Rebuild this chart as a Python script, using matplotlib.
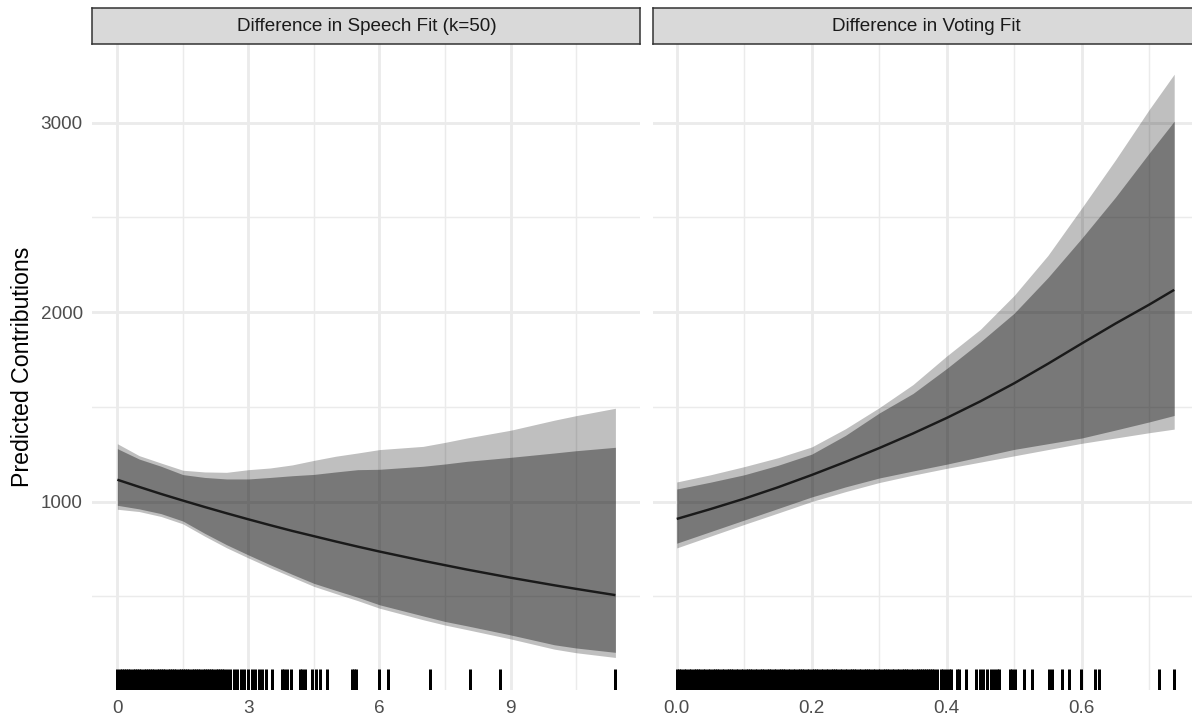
import matplotlib
matplotlib.use("Agg")
import matplotlib.pyplot as plt
from matplotlib.ticker import FixedLocator

plt.rcParams['font.family'] = ['Liberation Sans', 'DejaVu Sans']

# ---------------- data ----------------
panel_titles = ["Difference in Speech Fit (k=50)", "Difference in Voting Fit"]
y_label = "Predicted Contributions"

speech_x = [0, 0.5, 1, 1.5, 2, 2.5, 3, 3.5, 4, 4.5, 5, 5.5, 6, 7, 7.5, 8, 9, 10, 10.5, 11.4]
speech_fit = [1116, 1078, 1041, 1006, 972, 939, 907, 876, 846, 818, 790, 763, 737, 688, 665, 642, 599, 559, 540, 507]
speech_hi95 = [1306, 1243, 1204, 1166, 1157, 1155, 1169, 1178, 1194, 1218, 1240, 1257, 1275, 1292, 1313, 1336, 1377, 1430, 1454, 1493]
speech_hi90 = [1280, 1225, 1187, 1143, 1128, 1120, 1120, 1128, 1137, 1144, 1157, 1169, 1171, 1187, 1199, 1213, 1234, 1257, 1269, 1287]
speech_lo90 = [981, 962, 937, 898, 833, 773, 719, 667, 617, 569, 532, 496, 456, 397, 368, 345, 297, 245, 228, 205]
speech_lo95 = [960, 948, 922, 883, 818, 757, 703, 651, 602, 553, 515, 478, 438, 377, 349, 325, 276, 222, 203, 178]

vote_x = [0, 0.05, 0.1, 0.15, 0.2, 0.25, 0.3, 0.35, 0.4, 0.45, 0.5, 0.55, 0.6, 0.65, 0.7, 0.737]
vote_fit = [909, 961, 1016, 1076, 1141, 1210, 1283, 1360, 1442, 1530, 1625, 1728, 1835, 1940, 2040, 2118]
vote_hi95 = [1104, 1142, 1185, 1232, 1289, 1385, 1496, 1618, 1769, 1910, 2089, 2300, 2550, 2804, 3070, 3256]
vote_hi90 = [1067, 1103, 1142, 1192, 1251, 1350, 1468, 1571, 1703, 1844, 1995, 2183, 2390, 2607, 2840, 3008]
vote_lo90 = [781, 842, 903, 964, 1025, 1078, 1125, 1162, 1198, 1237, 1276, 1306, 1336, 1378, 1421, 1455]
vote_lo95 = [756, 818, 880, 940, 1001, 1053, 1101, 1140, 1176, 1209, 1242, 1275, 1308, 1336, 1364, 1383]

speech_rug = [0.00, 0.05, 0.10, 0.15, 0.20, 0.25, 0.30, 0.35, 0.40, 0.45, 0.50, 0.55, 0.60,
              0.65, 0.70, 0.75, 0.80, 0.85, 0.90, 0.95, 1.00, 1.05, 1.10, 1.15, 1.20, 1.25,
              1.30, 1.35, 1.40, 1.45, 1.50, 1.55, 1.60, 1.65, 1.70, 1.75, 1.80, 1.85, 1.90,
              1.95, 2.00, 2.05, 2.10, 2.15, 2.20, 2.25, 2.30, 2.35, 2.40,
              2.45, 2.50, 2.58, 2.66, 2.75, 2.83, 2.91, 3.00, 3.08, 3.16, 3.24, 3.32, 3.40,
              3.53, 3.77, 3.82, 3.88, 3.98, 4.18, 4.22, 4.29, 4.45, 4.55, 4.65, 4.80,
              5.37, 5.42, 5.47, 5.98, 6.19, 7.16, 8.07, 8.77, 11.40]
vote_rug = [0.000, 0.004, 0.007, 0.011, 0.014, 0.018, 0.021, 0.025, 0.028, 0.032, 0.035,
            0.039, 0.042, 0.046, 0.049, 0.053, 0.056, 0.060, 0.063, 0.067, 0.070, 0.074,
            0.077, 0.081, 0.084, 0.088, 0.091, 0.095, 0.098, 0.102, 0.105, 0.109, 0.112,
            0.116, 0.119, 0.123, 0.126, 0.130, 0.133, 0.137, 0.140, 0.144, 0.147, 0.151,
            0.154, 0.158, 0.161, 0.165, 0.168, 0.172, 0.175, 0.179, 0.182, 0.186, 0.189,
            0.193, 0.196, 0.200, 0.203, 0.207, 0.210, 0.214, 0.217, 0.221, 0.224, 0.228,
            0.231, 0.235, 0.238, 0.242, 0.245, 0.249, 0.252, 0.256, 0.259, 0.263, 0.266,
            0.270, 0.273, 0.277, 0.280, 0.284, 0.287, 0.291, 0.294, 0.298, 0.301, 0.305,
            0.308, 0.312, 0.315, 0.319, 0.322, 0.326, 0.329, 0.333, 0.336, 0.340, 0.343,
            0.347, 0.350, 0.354, 0.357, 0.360, 0.363, 0.366, 0.369, 0.372, 0.375, 0.378,
            0.381, 0.386, 0.391, 0.395, 0.399, 0.404, 0.407, 0.415, 0.418, 0.428, 0.444,
            0.449, 0.454, 0.459, 0.465, 0.470, 0.475, 0.477, 0.494, 0.497, 0.501, 0.514,
            0.526, 0.551, 0.556, 0.571, 0.581, 0.599, 0.620, 0.625, 0.714, 0.737]

speech_xticks = [0, 3, 6, 9]
speech_xminor = [1.5, 4.5, 7.5, 10.5]
vote_xticks = [0.0, 0.2, 0.4, 0.6]
vote_xminor = [0.1, 0.3, 0.5, 0.7]
yticks = [1000, 2000, 3000]
yminor = [500, 1500, 2500]

# ---------------- layout ----------------
W, H = 1192, 717
fig = plt.figure(figsize=(W / 100, H / 100), dpi=100)
fig.patch.set_facecolor("white")

panel_top, panel_bot = 44.0, 690.0
panel_w = 547.9
lefts = [92.4, 652.7]
xlims = [(-0.571, 11.97), (-0.0356, 0.7761)]
ylim = (6.3, 3415.3)

GRID = "#EBEBEB"
TICKC = "#4D4D4D"

panels = [
    (speech_x, speech_fit, speech_hi95, speech_hi90, speech_lo90, speech_lo95, speech_rug,
     speech_xticks, speech_xminor, ["0", "3", "6", "9"]),
    (vote_x, vote_fit, vote_hi95, vote_hi90, vote_lo90, vote_lo95, vote_rug,
     vote_xticks, vote_xminor, ["0.0", "0.2", "0.4", "0.6"]),
]

for i, (xs, fit, hi95, hi90, lo90, lo95, rug, xt, xm, xtl) in enumerate(panels):
    L = lefts[i]
    ax = fig.add_axes([L / W, (H - panel_bot) / H, panel_w / W, (panel_bot - panel_top) / H])
    ax.set_xlim(*xlims[i])
    ax.set_ylim(*ylim)
    ax.set_facecolor("white")
    for s in ax.spines.values():
        s.set_visible(False)
    # grid
    for v in xm:
        ax.axvline(v, color=GRID, lw=1.05, zorder=0)
    for v in yminor:
        ax.axhline(v, color=GRID, lw=1.05, zorder=0)
    for v in xt:
        ax.axvline(v, color=GRID, lw=2.05, zorder=0)
    for v in yticks:
        ax.axhline(v, color=GRID, lw=2.05, zorder=0)
    # ribbons
    ax.fill_between(xs, lo95, hi95, color="black", alpha=0.25, lw=0, zorder=2)
    ax.fill_between(xs, lo90, hi90, color="black", alpha=0.37, lw=0, zorder=3)
    ax.plot(xs, fit, color="#1A1A1A", lw=1.75, zorder=4, solid_capstyle="butt",
            solid_joinstyle="round")
    # rug
    ax.vlines(rug, 0, 0.033, transform=ax.get_xaxis_transform(), color="black",
              lw=2.16, zorder=5, snap=True)
    ax.xaxis.set_major_locator(FixedLocator(xt))
    ax.set_xticklabels(xtl)
    ax.yaxis.set_major_locator(FixedLocator(yticks))
    ax.tick_params(length=0, labelsize=13.6, colors=TICKC, pad=7.0)
    if i == 0:
        ax.set_yticklabels([str(v) for v in yticks])
    else:
        ax.tick_params(labelleft=False)

    # strip
    sax = fig.add_axes([L / W, (H - panel_top) / H, panel_w / W, (panel_top - 8.3) / H])
    sax.set_facecolor("#D9D9D9")
    sax.set_xticks([])
    sax.set_yticks([])
    for s in sax.spines.values():
        s.set_color("#333333")
        s.set_linewidth(1.1)
    sax.set_xlim(0, 1)
    sax.set_ylim(0, 1)
    sax.text(0.5, 0.5, panel_titles[i], ha="center", va="center",
             fontsize=13.6, color="#1A1A1A")

fig.text(22.5 / W, 1 - 367 / H, y_label, rotation=90, ha="center", va="center",
         fontsize=16.7, color="black")

fig.savefig("out.png", dpi=100, facecolor="white")
